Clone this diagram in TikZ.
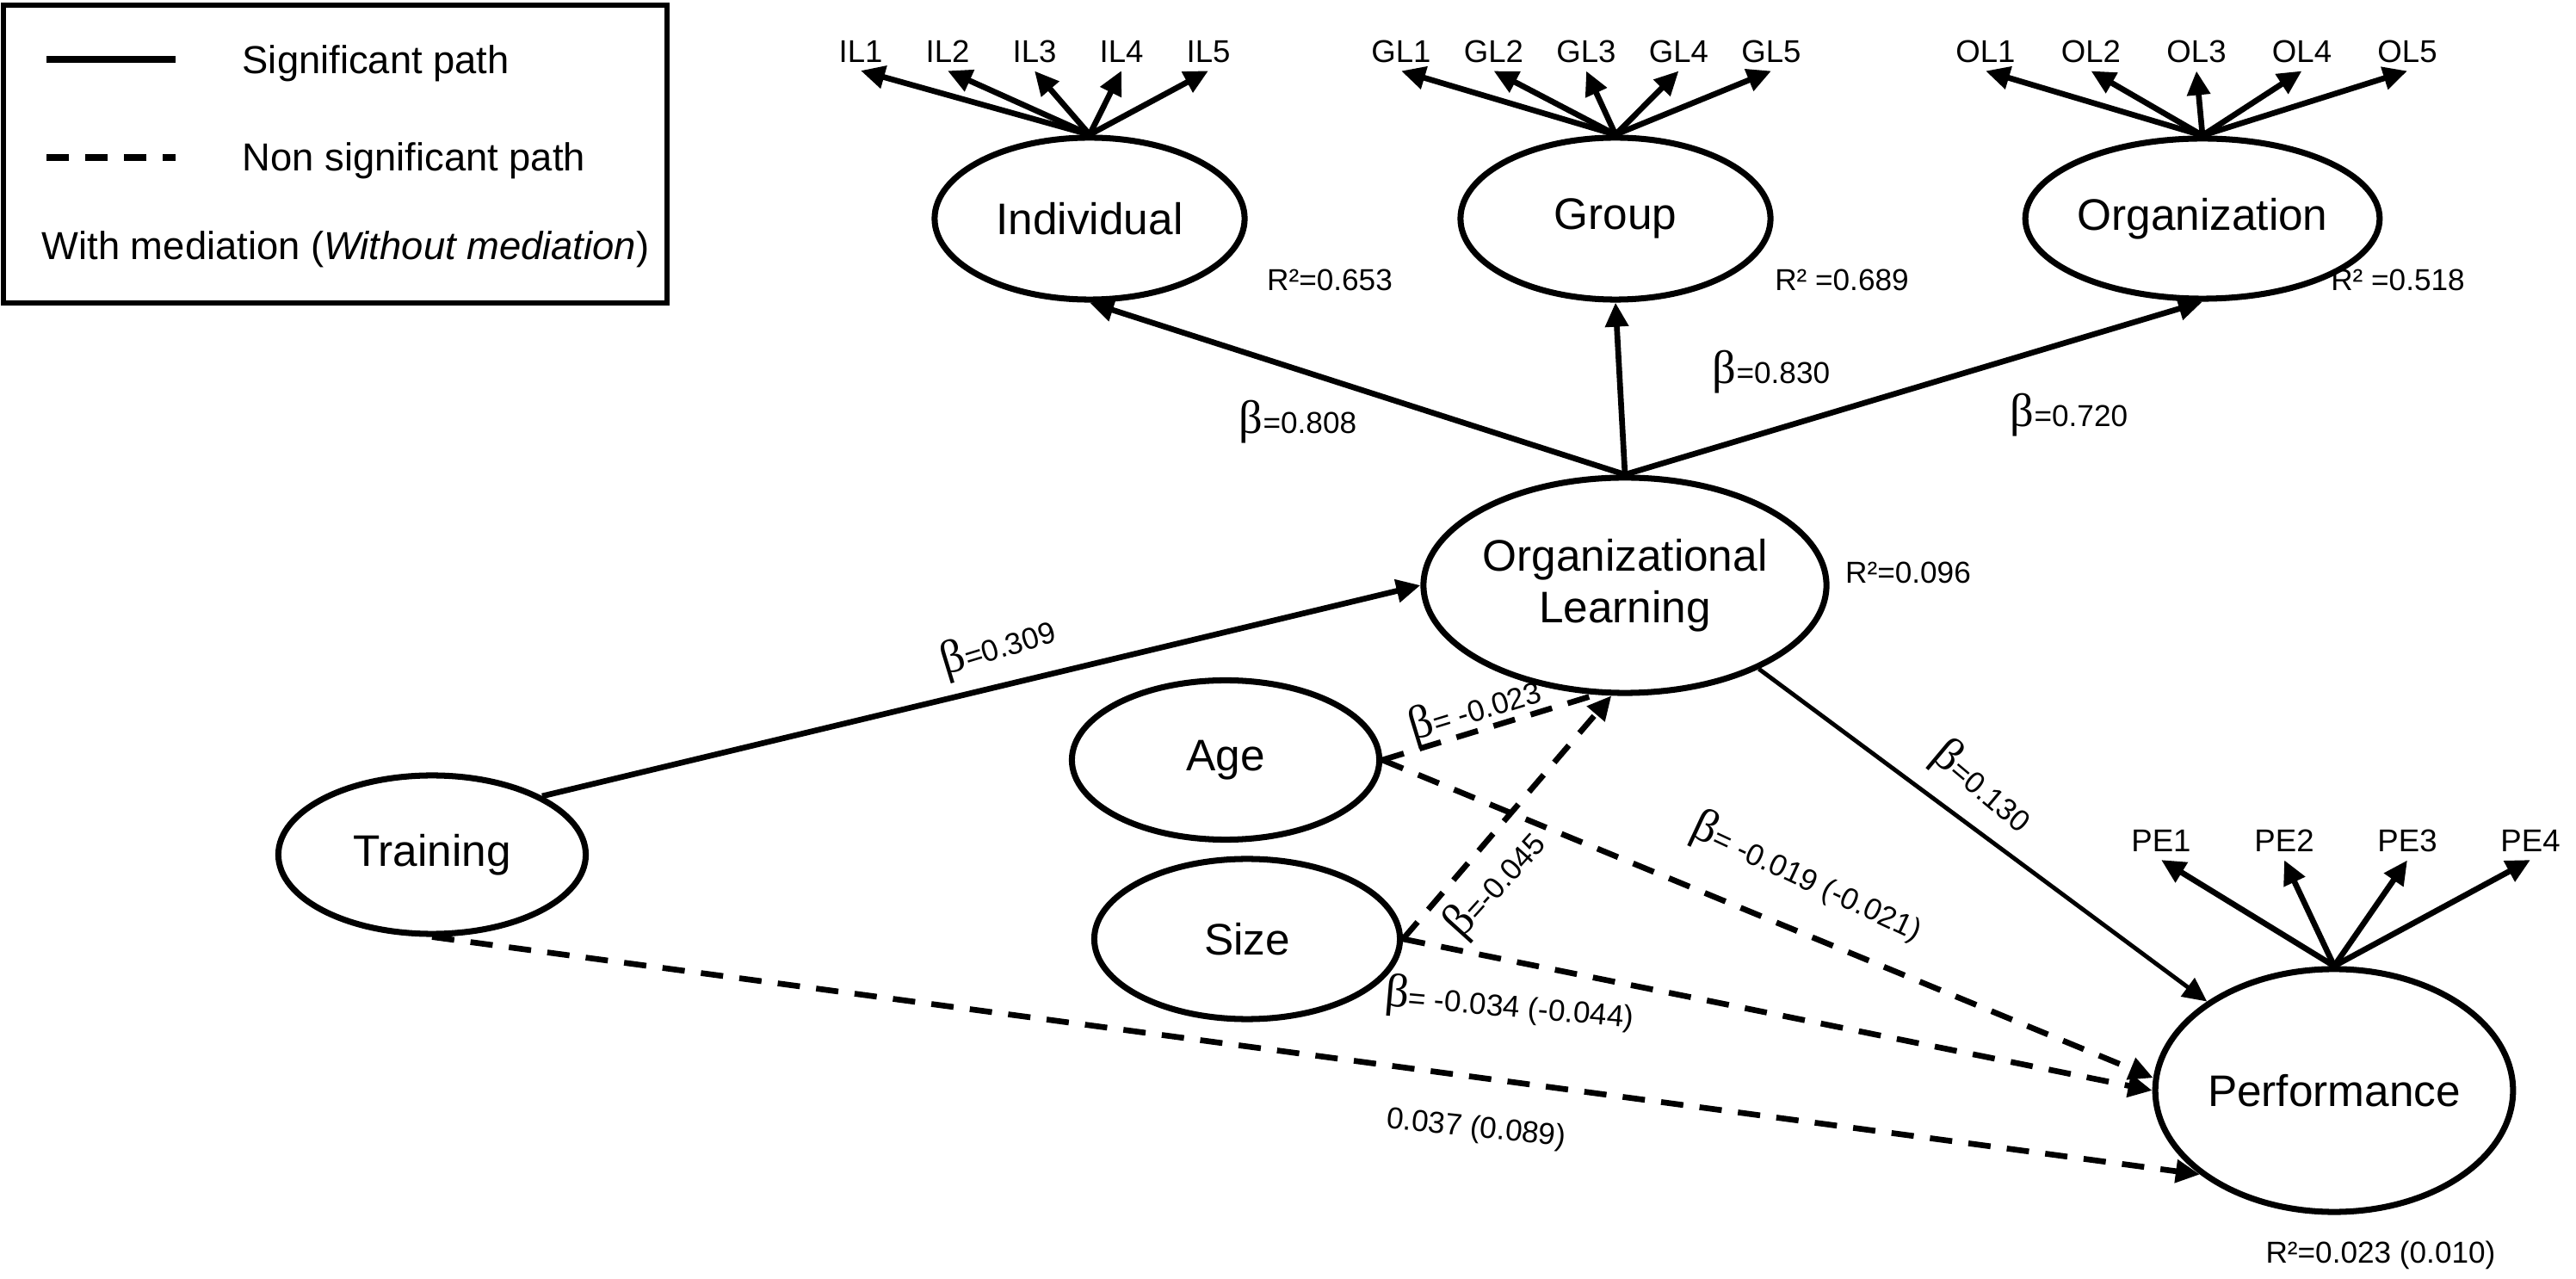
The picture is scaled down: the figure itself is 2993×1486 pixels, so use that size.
\documentclass[tikz,border=0pt]{standalone}
\usepackage{fontspec}
\setmainfont{Liberation Sans}
\newfontfamily\betafont{Liberation Serif}
\usepackage{tikz}
\usetikzlibrary{arrows.meta}
\usetikzlibrary{shapes.geometric}
\usetikzlibrary{calc}

\newcommand{\nodefont}{\fontsize{14.6}{17}\selectfont}
\newcommand{\legfont}{\fontsize{12.9}{15}\selectfont}
\newcommand{\indfont}{\fontsize{10.4}{12}\selectfont}
\newcommand{\labfont}{\fontsize{10}{12}\selectfont}
\newcommand{\bsym}{{\betafont\fontsize{15.5}{15}\selectfont β}}

\begin{document}
\begin{tikzpicture}[x=0.01cm, y=-0.01cm,
    lat/.style={ellipse, draw, line width=2pt, inner sep=0pt, align=center, font=\nodefont},
    ind/.style={font=\indfont, inner sep=2.5pt},
    lab/.style={font=\labfont, inner sep=1pt},
    sig/.style={line width=1.9pt, -{Triangle[length=0.28cm,width=0.26cm]}},
    ns/.style={sig, dash pattern=on 0.26cm off 0.19cm}]
    \useasboundingbox (0,0) rectangle (2993,1486);

    \draw[line width=1.8pt] (4,6) rectangle (775,352);
    \draw[line width=2.3pt] (54,69) -- (204,69);
    \draw[line width=2.3pt, dash pattern=on 0.26cm off 0.19cm] (54,183) -- (204,183);
    \node[font=\legfont, anchor=base west, inner sep=0pt] (lsig) at (281,86) {Significant path};
    \node[font=\legfont, anchor=base west, inner sep=0pt] (lns) at (281,199) {Non significant path};
    \node[font=\legfont, anchor=base west, inner sep=0pt] (lmed) at (48,302) {With mediation (\textit{Without mediation})};

    \node[lat, minimum width=3.6cm, minimum height=1.88cm] (ind) at (1266,254) {Individual};
    \node[lat, minimum width=3.6cm, minimum height=1.88cm] (grp) at (1877,254) {Group};
    \node[lat, minimum width=3.58cm, minimum height=1.86cm] (org) at (2559,254) {Organization};
    \node[lat, minimum width=4cm, minimum height=2.5cm] (ol) at (1888,680) {Organizational\\Learning};
    \node[lat, minimum width=3.57cm, minimum height=1.85cm] (age) at (1424,883) {Age};
    \node[lat, minimum width=3.55cm, minimum height=1.86cm] (size) at (1449,1091) {Size};
    \node[lat, minimum width=3.57cm, minimum height=1.84cm] (trn) at (502,993) {Training};
    \node[lat, minimum width=4.12cm, minimum height=2.82cm] (perf) at (2712,1267) {Performance};

    \foreach \i in {1,...,5} {
        \node[ind] (il\i) at ({1000+101*(\i-1)},60) {IL\i};
        \draw[sig] (ind.north) -- (il\i.south);
        \node[ind] (gl\i) at ({1628+107.5*(\i-1)},60) {GL\i};
        \draw[sig] (grp.north) -- (gl\i.south);
        \node[ind] (oi\i) at ({2307+122.5*(\i-1)},60) {OL\i};
        \draw[sig] (org.north) -- (oi\i.south);
    }
    \foreach \i in {1,...,4} {
        \node[ind] (pe\i) at ({2511+143*(\i-1)},977) {PE\i};
        \draw[sig] (perf.north) -- (pe\i.south);
    }

    \draw[sig] (ol.north) -- (ind.south);
    \draw[sig] (ol.north) -- (grp.south);
    \draw[sig] (ol.north) -- (org.south);
    \draw[sig] (trn.28) -- (ol.west);
    \draw[sig, line width=1.4pt] (ol.328) -- (perf.145);
    \draw[ns] (trn.south) -- (perf.212);
    \draw[ns, -] (age.east) -- (ol.255);
    \draw[ns] (size.east) -- (ol.263);
    \draw[ns] (age.east) -- (perf.176);
    \draw[ns] (size.east) -- (perf.west);

    \node[lab] (b808) at (1508,490) {\bsym=0.808};
    \node[lab] (b830) at (2058,432) {\bsym=0.830};
    \node[lab] (b720) at (2404,482) {\bsym=0.720};
    \node[lab, rotate=17] (b309) at (1160,752) {\bsym=0.309};
    \node[lab, rotate=17] (b023) at (1714,825) {\bsym= -0.023};
    \node[lab, rotate=48] (b045) at (1738,1028) {\bsym=-0.045};
    \node[lab, rotate=-25] (b019) at (2100,1020) {\bsym= -0.019 (-0.021)};
    \node[lab, rotate=-40] (b130) at (2303,915) {\bsym=0.130};
    \node[lab, rotate=-5] (b034) at (1754,1168) {\bsym= -0.034 (-0.044)};
    \node[lab, rotate=-6] (b037) at (1715,1312) {0.037 (0.089)};

    \node[lab] (rind) at (1545,325) {R²=0.653};
    \node[lab] (rgrp) at (2140,325) {R² =0.689};
    \node[lab] (rorg) at (2786,325) {R² =0.518};
    \node[lab] (rol) at (2217,665) {R²=0.096};
    \node[lab] (rperf) at (2766,1458) {R²=0.023 (0.010)};
\end{tikzpicture}
\end{document}
